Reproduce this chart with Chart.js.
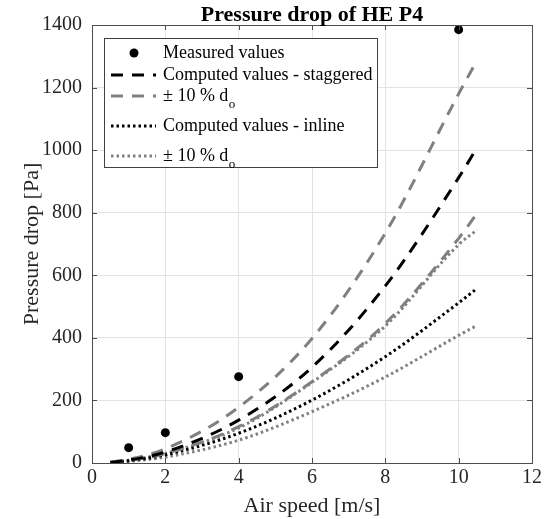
<!DOCTYPE html>
<html><head><meta charset="utf-8">
<script src="https://cdn.jsdelivr.net/npm/chart.js@4"></script>
<style>html,body{margin:0;padding:0;background:#fff}</style>
</head><body>
<canvas id="c" width="545" height="519" style="width:545px;height:519px;display:block"></canvas>
<script>
// ---- text ----
const titleText = 'Pressure drop of HE P4';
const xTitle = 'Air speed [m/s]';
const yTitle = 'Pressure drop [Pa]';
const xTicks = [0, 2, 4, 6, 8, 10, 12];
const yTicks = [0, 200, 400, 600, 800, 1000, 1200, 1400];

// ---- data ----
const speedMeasured = [1, 2, 4, 10];
const measured = [49, 97, 276, 1385];

const speedComputed = [0.5, 1, 2, 4, 6, 8, 10, 10.5];
const staggered      = [2, 9, 35, 137, 306, 566, 912, 1008];
const staggeredUpper = [3, 12, 45, 178, 398, 735, 1180, 1287];
const staggeredLower = [2, 8, 30, 116, 260, 446, 718, 798];
const inline         = [2, 7, 26, 95, 201, 340, 512, 558];
const inlineUpper    = [2, 9, 31, 112, 258, 438, 698, 745];
const inlineLower    = [1, 5, 19, 73, 164, 275, 408, 440];

const legendLabels = ['Measured values', 'Computed values - staggered', '\u00b1 10 % d', 'Computed values - inline', '\u00b1 10 % d'];
const legendSub = ['', '', 'o', '', 'o'];

const SERIF = '"Liberation Serif", "DejaVu Serif", serif';
const GRAY = '#808080';
const DASH = [12, 9];
const DOT = [2.5, 3];

const pts = (xs, ys) => xs.map((x, i) => ({x, y: ys[i]}));
const lineDs = (label, ys, color, dash) => ({
  label, data: pts(speedComputed, ys), showLine: true, borderColor: color,
  backgroundColor: color, borderWidth: 3, borderDash: dash, borderCapStyle: 'butt',
  pointRadius: 0, cubicInterpolationMode: 'monotone', fill: false
});

const datasets = [
  {label: legendLabels[0], data: pts(speedMeasured, measured), showLine: false,
   pointRadius: 4.5, pointBackgroundColor: '#000', pointBorderColor: '#000', pointBorderWidth: 0},
  lineDs(legendLabels[1], staggered, '#000', DASH),
  lineDs(legendLabels[2], staggeredUpper, GRAY, DASH),
  lineDs(legendLabels[2], staggeredLower, GRAY, DASH),
  lineDs(legendLabels[3], inline, '#000', DOT),
  lineDs(legendLabels[4], inlineUpper, GRAY, DOT),
  lineDs(legendLabels[4], inlineLower, GRAY, DOT)
];
// legend entries map to dataset indices
const legendMap = [0, 1, 2, 4, 5];
const legendRowsY = [53, 75, 96, 126, 156];

const framePlugin = {
  id: 'frame',
  afterDraw(chart) {
    const {ctx, chartArea: a, scales} = chart;
    ctx.save();
    // inward ticks
    ctx.strokeStyle = '#4d4d4d';
    ctx.lineWidth = 1;
    ctx.beginPath();
    xTicks.forEach(v => {
      const px = Math.round(scales.x.getPixelForValue(v)) + 0.5;
      ctx.moveTo(px, a.bottom); ctx.lineTo(px, a.bottom - 5);
      ctx.moveTo(px, a.top); ctx.lineTo(px, a.top + 5);
    });
    yTicks.forEach(v => {
      const py = Math.round(scales.y.getPixelForValue(v)) + 0.5;
      ctx.moveTo(a.left, py); ctx.lineTo(a.left + 5, py);
      ctx.moveTo(a.right, py); ctx.lineTo(a.right - 5, py);
    });
    ctx.stroke();
    ctx.strokeRect(Math.round(a.left) + 0.5, Math.round(a.top) + 0.5, Math.round(a.right - a.left), Math.round(a.bottom - a.top));

    // title
    ctx.fillStyle = '#000';
    ctx.font = 'bold 22px ' + SERIF;
    ctx.textAlign = 'center';
    ctx.textBaseline = 'alphabetic';
    ctx.fillText(titleText, (a.left + a.right) / 2, 21);

    // legend
    const bx = 104.5, by = 38.5, bw = 273, bh = 129;
    ctx.fillStyle = '#fff';
    ctx.fillRect(bx, by, bw, bh);
    ctx.strokeStyle = '#404040';
    ctx.strokeRect(bx, by, bw, bh);
    legendMap.forEach((di, i) => {
      const ds = chart.data.datasets[di];
      const y = legendRowsY[i];
      if (ds.showLine) {
        ctx.save();
        ctx.strokeStyle = ds.borderColor;
        ctx.lineWidth = ds.borderWidth;
        ctx.lineCap = 'butt';
        ctx.setLineDash(ds.borderDash);
        ctx.beginPath();
        ctx.moveTo(111, y); ctx.lineTo(156, y);
        ctx.stroke();
        ctx.restore();
      } else {
        ctx.fillStyle = ds.pointBackgroundColor;
        ctx.beginPath();
        ctx.arc(134, y, ds.pointRadius, 0, Math.PI * 2);
        ctx.fill();
      }
      ctx.fillStyle = '#000';
      ctx.font = '18px ' + SERIF;
      ctx.textAlign = 'left';
      ctx.textBaseline = 'middle';
      ctx.fillText(legendLabels[i], 163, y);
      if (legendSub[i]) {
        const w = ctx.measureText(legendLabels[i]).width;
        ctx.font = '13px ' + SERIF;
        ctx.fillText(legendSub[i], 163 + w + 0.5, y + 9);
      }
    });
    ctx.restore();
  }
};

new Chart(document.getElementById('c'), {
  type: 'scatter',
  data: {datasets},
  options: {
    responsive: false, animation: false, devicePixelRatio: 1,
    layout: {padding: {top: 25, right: 11, left: 0, bottom: 0}},
    plugins: {legend: {display: false}, title: {display: false}, tooltip: {enabled: false}},
    scales: {
      x: {
        type: 'linear', min: 0, max: 12,
        afterBuildTicks: s => { s.ticks = xTicks.map(v => ({value: v})); },
        afterFit: s => { s.height = 56; },
        ticks: {font: {family: SERIF, size: 20}, color: '#262626', padding: 3, maxRotation: 0, autoSkip: false,
                callback: v => String(v)},
        grid: {color: '#e3e3e3', drawTicks: false},
        border: {display: false},
        title: {display: true, text: xTitle, font: {family: SERIF, size: 22}, color: '#262626', padding: {top: 1, bottom: 0}}
      },
      y: {
        type: 'linear', min: 0, max: 1400,
        afterBuildTicks: s => { s.ticks = yTicks.map(v => ({value: v})); },
        afterFit: s => { s.width = 92; },
        ticks: {font: {family: SERIF, size: 20}, color: '#262626', padding: 10, autoSkip: false,
                callback: v => String(v)},
        grid: {color: '#e3e3e3', drawTicks: false},
        border: {display: false},
        title: {display: true, text: yTitle, font: {family: SERIF, size: 22}, color: '#262626', padding: {top: 19, bottom: 0}}
      }
    }
  },
  plugins: [framePlugin]
});
</script>
</body></html>
